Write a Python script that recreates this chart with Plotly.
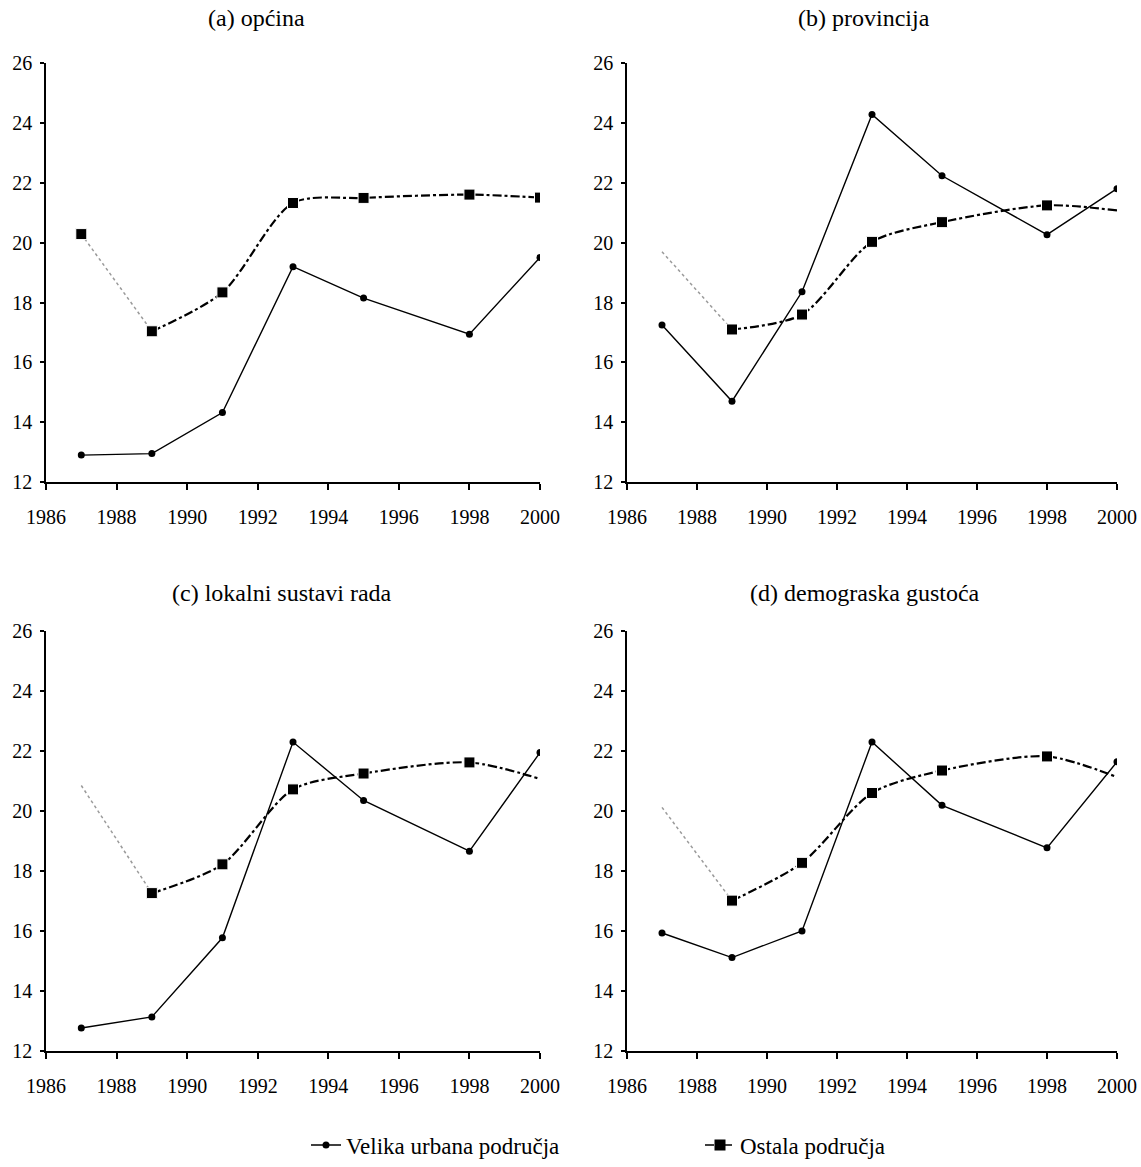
import plotly.graph_objects as go
from plotly.subplots import make_subplots

years = [1987, 1989, 1991, 1993, 1995, 1998, 2000]

panel_titles = ["(a) općina", "(b) provincija", "(c) lokalni sustavi rada", "(d) demograska gustoća"]

# Velika urbana područja (solid line)
urban_a = [12.9, 12.95, 14.32, 19.2, 18.15, 16.94, 19.51]
urban_b = [17.25, 14.7, 18.36, 24.29, 22.24, 20.27, 21.81]
urban_c = [12.77, 13.14, 15.78, 22.31, 20.36, 18.67, 21.96]
urban_d = [15.94, 15.12, 16.01, 22.31, 20.2, 18.78, 21.65]

# Ostala područja (dashed line)
other_a = [20.29, 17.04, 18.34, 21.33, 21.5, 21.61, 21.51]
other_b = [19.7, 17.1, 17.6, 20.03, 20.69, 21.25, 21.08]
other_c = [20.86, 17.27, 18.23, 20.73, 21.26, 21.63, 21.08]
other_d = [20.13, 17.02, 18.28, 20.61, 21.36, 21.83, 21.14]

urban = [urban_a, urban_b, urban_c, urban_d]
other = [other_a, other_b, other_c, other_d]

x_ticks = [1986, 1988, 1990, 1992, 1994, 1996, 1998, 2000]
y_ticks = [12, 14, 16, 18, 20, 22, 24, 26]

FONT = "Liberation Serif"
W, H = 1141, 1167

# which panels show markers on the first/last point of the dashed series
end_markers = [True, False, False, False]

fig = make_subplots(rows=2, cols=2)

# pixel boxes of each plot area (left, right, top, bottom)
boxes = [(46, 540, 64, 487), (627, 1117, 64, 487),
         (46, 540, 638, 1062), (627, 1117, 638, 1062)]
title_pos = [(256, 18), (864, 18), (282, 599), (865, 599)]


def px_x(v):
    return v / W


def px_y(v):
    return 1 - v / H


for i in range(4):
    r, c = i // 2 + 1, i % 2 + 1
    ys = other[i]
    # faint first segment of the smoothed dashed line
    fig.add_trace(go.Scatter(
        x=years[:2], y=ys[:2], mode="lines",
        line=dict(color="#9a9a9a", width=1.5, dash="dot"),
        showlegend=False, hoverinfo="skip"), row=r, col=c)
    sizes = [11] * len(years)
    if not end_markers[i]:
        sizes[0] = 0
        sizes[-1] = 0
    fig.add_trace(go.Scatter(
        x=years[1:], y=ys[1:], mode="lines",
        line=dict(color="black", width=2.2, dash="dashdot", shape="spline", smoothing=0.8),
        showlegend=False, hoverinfo="skip"), row=r, col=c)
    fig.add_trace(go.Scatter(
        x=years, y=ys, mode="markers",
        marker=dict(symbol="square", size=sizes, color="black", opacity=1),
        showlegend=False), row=r, col=c)
    fig.add_trace(go.Scatter(
        x=years, y=urban[i], mode="lines+markers",
        line=dict(color="black", width=1.4),
        marker=dict(symbol="circle", size=7, color="black"),
        showlegend=False), row=r, col=c)

    x0, x1, y0, y1 = boxes[i]
    fig.update_xaxes(domain=[px_x(x0), px_x(x1)], range=[1986, 2000], tickvals=x_ticks,
                     showline=True, linecolor="black", linewidth=1.5, ticks="outside",
                     ticklen=6, tickwidth=1.5, tickcolor="black", showgrid=False,
                     zeroline=False, automargin=False, ticklabelstandoff=10, row=r, col=c)
    fig.update_yaxes(domain=[px_y(y1), px_y(y0)], range=[12, 26], tickvals=y_ticks,
                     showline=True, linecolor="black", linewidth=1.5, ticks="outside",
                     ticklen=4, tickwidth=1.5, tickcolor="black", showgrid=False,
                     zeroline=False, automargin=False, ticklabelstandoff=4, row=r, col=c)
    tx, ty = title_pos[i]
    fig.add_annotation(text=panel_titles[i], x=px_x(tx), y=px_y(ty), xref="paper", yref="paper",
                       showarrow=False, xanchor="center", yanchor="middle",
                       font=dict(size=24, family=FONT, color="black"))

# legend entries
fig.add_trace(go.Scatter(
    x=[None], y=[None], mode="lines+markers", name="Velika urbana područja",
    line=dict(color="black", width=1.4), marker=dict(symbol="circle", size=7, color="black")))
fig.add_trace(go.Scatter(
    x=[None], y=[None], mode="lines+markers", name="Ostala područja",
    line=dict(color="black", width=1.5, dash="dash"), marker=dict(symbol="square", size=11, color="black")))

fig.update_layout(
    width=W, height=H,
    margin=dict(l=0, r=0, t=0, b=0),
    paper_bgcolor="white", plot_bgcolor="white",
    font=dict(family=FONT, size=20, color="black"),
    legend=dict(orientation="h", x=px_x(306), y=px_y(1157), xanchor="left", yanchor="middle",
                entrywidth=349, entrywidthmode="pixels", font=dict(size=23, family=FONT),
                bgcolor="rgba(0,0,0,0)"),
)

# drop the default page margin so the figure fills the window exactly
fig.write_html("out.html", config={"displayModeBar": False},
               post_script="document.body.style.margin='0';document.body.style.overflow='hidden';")
